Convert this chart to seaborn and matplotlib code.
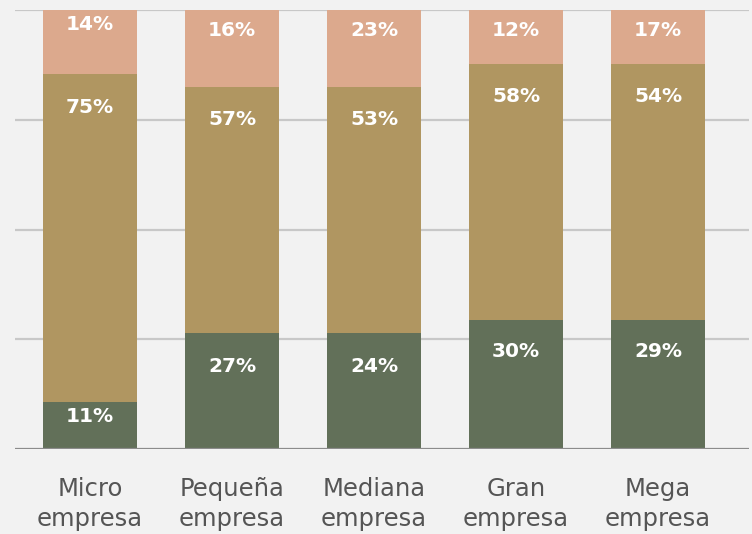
import matplotlib
matplotlib.use("Agg")
import matplotlib.pyplot as plt
import seaborn as sns
import pandas as pd

categories = ["Micro\nempresa", "Pequeña\nempresa", "Mediana\nempresa", "Gran\nempresa", "Mega\nempresa"]
# printed labels
bottom_labels = ["11%", "27%", "24%", "30%", "29%"]
middle_labels = ["75%", "57%", "53%", "58%", "54%"]
top_labels = ["14%", "16%", "23%", "12%", "17%"]
# segment heights as drawn in the picture (percent of full bar)
bottom_vals = [10.7, 26.4, 26.4, 29.4, 29.4]
middle_vals = [74.7, 56.1, 56.1, 58.3, 58.3]
top_vals = [14.6, 17.5, 17.5, 12.3, 12.3]

colors = {"bottom": "#627059", "middle": "#b09661", "top": "#dca98d"}
BG = "#f2f2f2"

sns.set_theme(style="white")
plt.rcParams["font.family"] = ["DejaVu Sans"]

fig = plt.figure(figsize=(7.52, 5.34), dpi=100, facecolor=BG)
ax = fig.add_axes([15 / 752, 85 / 534, 734 / 752, 439 / 534])
ax.set_facecolor(BG)

df = pd.DataFrame({
    "cat": categories,
    "bottom": bottom_vals,
    "middle": middle_vals,
    "top": top_vals,
})
df["cum_mid"] = df["bottom"] + df["middle"]
df["cum_top"] = df["cum_mid"] + df["top"]

for y in [25, 50, 75, 100]:
    ax.axhline(y, color="#c8c8c8", lw=1.6, zorder=0)
ax.axhline(0, color="#8c8c8c", lw=1.6, zorder=3)

w = 0.66
sns.barplot(data=df, x="cat", y="cum_top", color=colors["top"], width=w, ax=ax,
            saturation=1, zorder=2, linewidth=0)
sns.barplot(data=df, x="cat", y="cum_mid", color=colors["middle"], width=w, ax=ax,
            saturation=1, zorder=2, linewidth=0)
sns.barplot(data=df, x="cat", y="bottom", color=colors["bottom"], width=w, ax=ax,
            saturation=1, zorder=2, linewidth=0)

ax.set_xlim(-0.528, 4.64)
ax.set_ylim(0, 100)

# labels near top of each segment (pixel offsets)
top_off = [14, 20, 20, 20, 20]
bot_off = [14, 33, 33, 32, 32]
for i in range(len(categories)):
    segs = [(bottom_labels[i], df["bottom"][i], bot_off[i]),
            (middle_labels[i], df["cum_mid"][i], 33),
            (top_labels[i], df["cum_top"][i], top_off[i])]
    for txt, ytop, off in segs:
        ax.annotate(txt, xy=(i, ytop), xytext=(0, -off * 72 / 100),
                    textcoords="offset points", ha="center", va="center",
                    color="white", fontsize=14.5, fontweight="bold", zorder=5)

ax.set_yticks([])
ax.set_xticks(range(len(categories)))
ax.set_xticklabels(categories, fontsize=17.5, color="#555555", linespacing=1.32)
ax.tick_params(axis="x", length=0, pad=20)
ax.set_xlabel("")
ax.set_ylabel("")
for s in ax.spines.values():
    s.set_visible(False)

fig.savefig("out.png", dpi=100, facecolor=BG)
